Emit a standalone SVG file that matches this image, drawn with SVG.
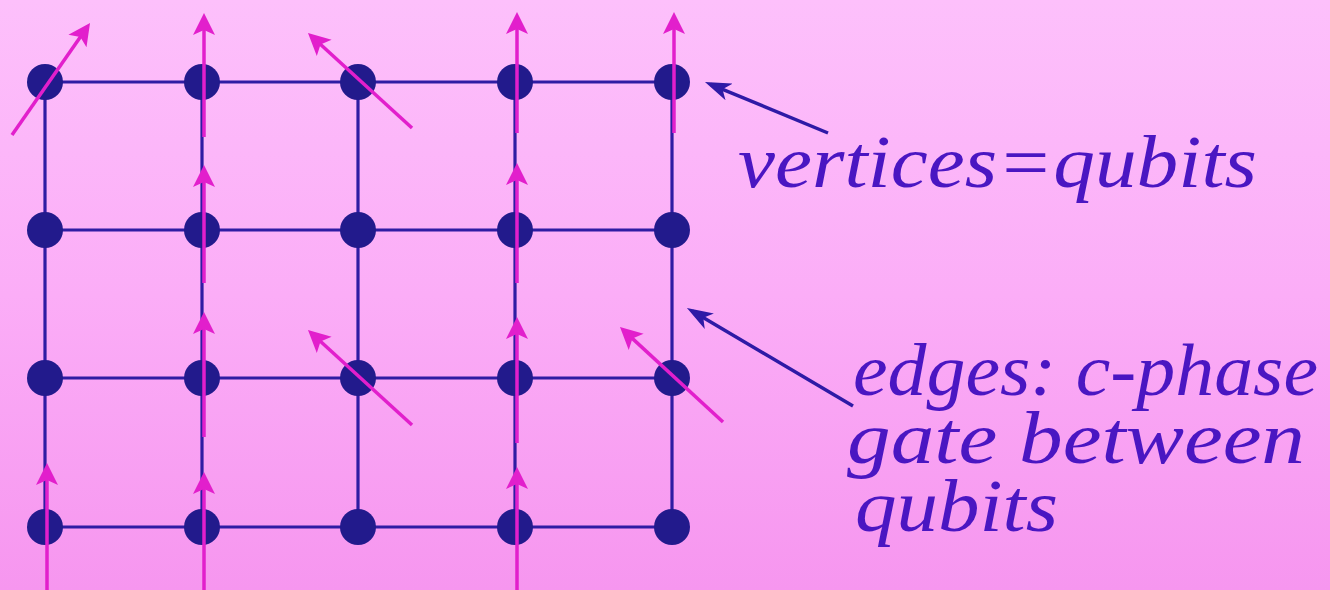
<svg xmlns="http://www.w3.org/2000/svg" width="1330" height="590" viewBox="0 0 1330 590">
<defs>
<linearGradient id="bg" x1="0" y1="0" x2="0" y2="1">
<stop offset="0" stop-color="#fdc0fb"/>
<stop offset="0.5" stop-color="#fbadf7"/>
<stop offset="1" stop-color="#f696ef"/>
</linearGradient>
<marker id="mh" viewBox="0 0 22 24" refX="16" refY="12" markerWidth="22" markerHeight="24" orient="auto" markerUnits="userSpaceOnUse">
<path d="M0,1 L22,12 L0,23 L5,12 z" fill="#e21fcc"/>
</marker>
<marker id="bh" viewBox="0 0 26 20" refX="20" refY="10" markerWidth="26" markerHeight="20" orient="auto" markerUnits="userSpaceOnUse">
<path d="M0,1 L26,10 L0,19 L7,10 z" fill="#2e1aa6"/>
</marker>
<style>
.edge{stroke:#2f1ca3;stroke-width:3.2;fill:none}
.node{fill:#221a8c}
.spin{stroke:#e21fcc;stroke-width:3.5;fill:none;marker-end:url(#mh)}
.ptr{stroke:#2e1aa6;stroke-width:3.5;fill:none;marker-end:url(#bh)}
.lbl{font-family:"Liberation Serif",serif;font-style:italic;font-size:74px;fill:#4a16c2}
</style>
</defs>
<rect width="1330" height="590" fill="url(#bg)"/>
<g id="connectors">
<line class="edge" x1="45" y1="82" x2="672" y2="82"/>
<line class="edge" x1="45" y1="230" x2="672" y2="230"/>
<line class="edge" x1="45" y1="378" x2="672" y2="378"/>
<line class="edge" x1="45" y1="527" x2="672" y2="527"/>
<line class="edge" x1="45" y1="82" x2="45" y2="527"/>
<line class="edge" x1="202" y1="82" x2="202" y2="527"/>
<line class="edge" x1="358" y1="82" x2="358" y2="527"/>
<line class="edge" x1="515" y1="82" x2="515" y2="527"/>
<line class="edge" x1="672" y1="82" x2="672" y2="527"/>
</g>
<g id="nodes">
<g id="q11"><circle class="node" cx="45" cy="82" r="18"/></g>
<g id="q12"><circle class="node" cx="202" cy="82" r="18"/></g>
<g id="q13"><circle class="node" cx="358" cy="82" r="18"/></g>
<g id="q14"><circle class="node" cx="515" cy="82" r="18"/></g>
<g id="q15"><circle class="node" cx="672" cy="82" r="18"/></g>
<g id="q21"><circle class="node" cx="45" cy="230" r="18"/></g>
<g id="q22"><circle class="node" cx="202" cy="230" r="18"/></g>
<g id="q23"><circle class="node" cx="358" cy="230" r="18"/></g>
<g id="q24"><circle class="node" cx="515" cy="230" r="18"/></g>
<g id="q25"><circle class="node" cx="672" cy="230" r="18"/></g>
<g id="q31"><circle class="node" cx="45" cy="378" r="18"/></g>
<g id="q32"><circle class="node" cx="202" cy="378" r="18"/></g>
<g id="q33"><circle class="node" cx="358" cy="378" r="18"/></g>
<g id="q34"><circle class="node" cx="515" cy="378" r="18"/></g>
<g id="q35"><circle class="node" cx="672" cy="378" r="18"/></g>
<g id="q41"><circle class="node" cx="45" cy="527" r="18"/></g>
<g id="q42"><circle class="node" cx="202" cy="527" r="18"/></g>
<g id="q43"><circle class="node" cx="358" cy="527" r="18"/></g>
<g id="q44"><circle class="node" cx="515" cy="527" r="18"/></g>
<g id="q45"><circle class="node" cx="672" cy="527" r="18"/></g>
</g>
<g id="spins">
<line class="spin" x1="12" y1="135" x2="86.6" y2="27.9"/>
<line class="spin" x1="204" y1="137" x2="204" y2="19"/>
<line class="spin" x1="204" y1="283" x2="204" y2="171"/>
<line class="spin" x1="204" y1="437" x2="204" y2="318"/>
<line class="spin" x1="204" y1="590" x2="204" y2="478"/>
<line class="spin" x1="47" y1="590" x2="47" y2="469"/>
<line class="spin" x1="412" y1="128" x2="312.4" y2="37"/>
<line class="spin" x1="412" y1="425" x2="312.4" y2="334"/>
<line class="spin" x1="517" y1="133" x2="517" y2="18"/>
<line class="spin" x1="517" y1="283" x2="517" y2="169"/>
<line class="spin" x1="517" y1="443" x2="517" y2="323"/>
<line class="spin" x1="517" y1="590" x2="517" y2="473"/>
<line class="spin" x1="674" y1="133" x2="674" y2="18"/>
<line class="spin" x1="723" y1="422" x2="624.4" y2="331.1"/>
</g>
<g id="pointers">
<line class="ptr" x1="828" y1="133" x2="710.5" y2="84.3"/>
<line class="ptr" x1="853" y1="406" x2="692.1" y2="311.1"/>
</g>
<g id="labels">
<text class="lbl" x="738" y="187" textLength="519" lengthAdjust="spacingAndGlyphs">vertices=qubits</text>
<text class="lbl" x="853" y="395" textLength="465" lengthAdjust="spacingAndGlyphs">edges: c-phase</text>
<text class="lbl" x="847" y="463" textLength="458" lengthAdjust="spacingAndGlyphs">gate between</text>
<text class="lbl" x="855" y="531" textLength="203" lengthAdjust="spacingAndGlyphs">qubits</text>
</g>
</svg>
